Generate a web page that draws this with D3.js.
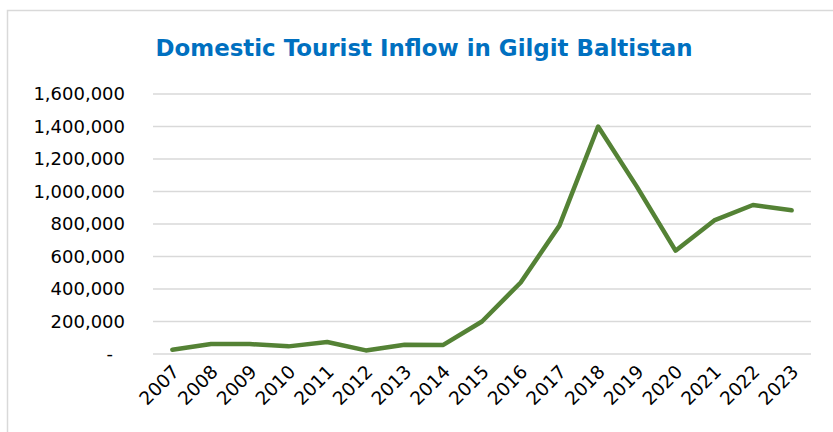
<!DOCTYPE html>
<html>
<head>
<meta charset="utf-8">
<script src="https://cdn.jsdelivr.net/npm/d3@7"></script>
<style>
  html, body { margin: 0; padding: 0; background: #fff; }
  svg { display: block; }
</style>
</head>
<body>
<svg id="chart" width="833" height="432"></svg>
<script>
// Domestic tourist arrivals in Gilgit Baltistan, by year
const years = ["2007","2008","2009","2010","2011","2012","2013","2014","2015",
               "2016","2017","2018","2019","2020","2021","2022","2023"];
const tourists = [26000, 61000, 61000, 47000, 74000, 22000, 57000, 56000, 200000,
                  440000, 790000, 1400000, 1030000, 636000, 822000, 917000, 884000];
const yTicks = [0, 200000, 400000, 600000, 800000, 1000000, 1200000, 1400000, 1600000];
const titleText = "Domestic Tourist Inflow in Gilgit Baltistan";

const svg = d3.select("#chart");
const W = 833, H = 432;
const margin = { left: 153, right: 22, top: 94, bottom: 78 };

// Chart area frame
svg.append("rect")
  .attr("x", 7.5).attr("y", 10.5)
  .attr("width", W + 10).attr("height", H + 10)
  .attr("fill", "#fff")
  .attr("stroke", "#d9d9d9").attr("stroke-width", 1.5);

const x = d3.scaleBand()
  .domain(years)
  .range([margin.left, W - margin.right]);

const y = d3.scaleLinear()
  .domain([0, 1600000])
  .range([H - margin.bottom, margin.top]);

// Title
svg.append("text")
  .attr("x", 424).attr("y", 56)
  .attr("text-anchor", "middle")
  .attr("font-family", "'DejaVu Sans', sans-serif")
  .attr("font-weight", "bold")
  .attr("font-size", 23)
  .attr("fill", "#0070c0")
  .attr("textLength", 537)
  .attr("lengthAdjust", "spacingAndGlyphs")
  .text(titleText);

// Horizontal gridlines
svg.append("g")
  .selectAll("line")
  .data(yTicks)
  .join("line")
  .attr("x1", margin.left).attr("x2", W - margin.right)
  .attr("y1", d => y(d)).attr("y2", d => y(d))
  .attr("stroke", "#d9d9d9").attr("stroke-width", 1.5);

// Y axis labels
const fmt = d3.format(",");
const yAxis = d3.axisLeft(y)
  .tickValues(yTicks)
  .tickSize(0)
  .tickPadding(28)
  .tickFormat(d => d === 0 ? "-" : fmt(d));
const gy = svg.append("g")
  .attr("transform", `translate(${margin.left},0)`)
  .call(yAxis);
gy.select(".domain").remove();
gy.selectAll("text")
  .attr("font-family", "'DejaVu Sans', sans-serif")
  .attr("font-size", 18)
  .attr("fill", "#000");
gy.selectAll(".tick")
  .filter(d => d === 0)
  .select("text")
  .attr("dx", -12);

// X axis labels, rotated
const xAxis = d3.axisBottom(x).tickSize(0).tickPadding(0);
const gx = svg.append("g")
  .attr("transform", `translate(0,${H - margin.bottom})`)
  .call(xAxis);
gx.select(".domain").remove();
gx.selectAll("text")
  .attr("font-family", "'DejaVu Sans', sans-serif")
  .attr("font-size", 18.5)
  .attr("fill", "#000")
  .attr("text-anchor", "end")
  .attr("dy", 0)
  .attr("transform", "translate(8,19) rotate(-45)");

// Tourist inflow line
const line = d3.line()
  .x((d, i) => x(years[i]) + x.bandwidth() / 2)
  .y(d => y(d));

svg.append("path")
  .datum(tourists)
  .attr("d", line)
  .attr("fill", "none")
  .attr("stroke", "#548235")
  .attr("stroke-width", 4.5)
  .attr("stroke-linejoin", "round")
  .attr("stroke-linecap", "round");
</script>
</body>
</html>
